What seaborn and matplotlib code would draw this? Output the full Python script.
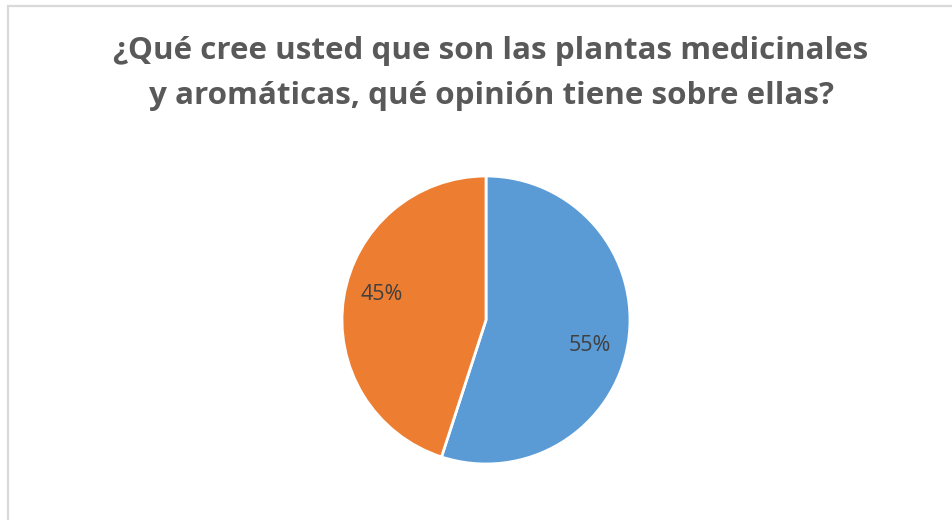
import matplotlib
matplotlib.use("Agg")
import numpy as np
import matplotlib.pyplot as plt
import seaborn as sns
from matplotlib.patches import Rectangle

categories = ["Opinión A", "Opinión B"]
values = [55, 45]
colors = ["#5B9BD5", "#ED7D31"]
title_lines = ["¿Qué cree usted que son las plantas medicinales",
               "y aromáticas, qué opinión tiene sobre ellas?"]

sns.set_theme(style="white")
plt.rcParams['font.family'] = ['Open Sans', 'DejaVu Sans']

W, H = 952, 520
fig = plt.figure(figsize=(W / 100, H / 100), dpi=100)
fig.patch.set_facecolor("white")

# chart frame (light gray border, continues past right/bottom edges)
fig.patches.append(Rectangle((8 / W, -0.1), 1.2, (H - 6) / H + 0.1,
                             transform=fig.transFigure, fill=False,
                             edgecolor="#D9D9D9", linewidth=1.6, zorder=0))

# title
for i, line in enumerate(title_lines):
    fig.text(491 / W, 1 - (59 + 45 * i) / H, line, ha="center", va="baseline",
             fontsize=22.6, fontweight="bold", color="#595959")

cx, cy, r = 486, 320, 144
ax = fig.add_axes([(cx - r) / W, 1 - (cy + r) / H, 2 * r / W, 2 * r / H])
wedges, texts, autotexts = ax.pie(
    values, colors=colors, startangle=90, counterclock=False,
    autopct=lambda p: f"{p:.0f}%", pctdistance=0.74,
    wedgeprops=dict(edgecolor="white", linewidth=2),
    textprops=dict(fontsize=15.5, color="#404040"))
# Excel "best fit" label placement: slightly rotated from wedge middle
for w, t in zip(wedges, autotexts):
    ang = np.deg2rad((w.theta1 + w.theta2) / 2 - 5)
    t.set_position((0.745 * np.cos(ang), 0.745 * np.sin(ang)))
ax.set_xlim(-1, 1)
ax.set_ylim(-1, 1)
ax.set_aspect("equal")
ax.axis("off")

fig.savefig("out.png", dpi=100, facecolor="white")
